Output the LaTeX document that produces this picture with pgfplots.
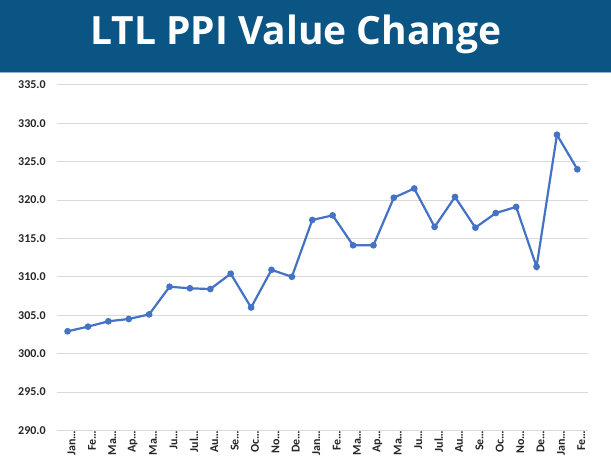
\documentclass[border=0pt]{standalone}
\usepackage{fontspec}
\setmainfont{Carlito}
\newfontfamily\titlefont{Open Sans}
\usepackage{pgfplots}
\pgfplotsset{compat=1.18}
\definecolor{banner}{HTML}{0B5584}
\definecolor{bannerline}{HTML}{8FAFD0}
\definecolor{linecol}{HTML}{4472C4}
\definecolor{gridgray}{HTML}{D9D9D9}
\definecolor{labgray}{HTML}{262626}
\begin{document}
\begin{tikzpicture}
\fill[white] (0bp,0bp) rectangle (611bp,470bp);
\fill[banner] (0bp,397bp) rectangle (611bp,470bp);
\draw[bannerline, line width=1bp] (0bp,397bp) -- (611bp,397bp);
\node[text=white, font=\titlefont\bfseries\fontsize{39bp}{44bp}\selectfont, anchor=base] at (296bp,425bp) {LTL PPI Value Change};
\begin{axis}[
  at={(57bp,39bp)}, anchor=south west,
  scale only axis, width=531bp, height=346bp,
  xmin=-0.5, xmax=25.5, ymin=290, ymax=335,
  ytick={290,295,...,335},
  xtick={0,...,25},
  xticklabels={Jan…,Fe…,Ma…,Ap…,Ma…,Ju…,Jul…,Au…,Se…,Oc…,No…,De…,Jan…,Fe…,Ma…,Ap…,Ma…,Ju…,Jul…,Au…,Se…,Oc…,No…,De…,Jan…,Fe…},
  x tick label style={rotate=90, anchor=east, inner sep=0pt, yshift=-4bp, text=labgray, font=\bfseries\fontsize{12bp}{14bp}\selectfont},
  y tick label style={anchor=east, inner sep=0pt, xshift=-11.5bp, text=labgray, font=\bfseries\fontsize{12bp}{14bp}\selectfont},
  /pgf/number format/.cd, fixed, fixed zerofill, precision=1, assume math mode=true, /pgfplots/.cd,
  major tick length=0pt,
  ymajorgrids, grid style={gridgray, line width=0.75bp},
  axis line style={draw=none},
  clip=false,
]
\addplot[linecol, line width=2.2bp, mark=*, mark size=2.2bp, mark options={fill=linecol, draw=linecol}] coordinates {
(0,302.9) (1,303.5) (2,304.2) (3,304.5) (4,305.1) (5,308.7) (6,308.5) (7,308.4)
(8,310.4) (9,306.0) (10,310.9) (11,310.0) (12,317.4) (13,318.0) (14,314.1) (15,314.1)
(16,320.3) (17,321.5) (18,316.5) (19,320.4) (20,316.4) (21,318.3) (22,319.1) (23,311.3)
(24,328.5) (25,324.0)
};
\end{axis}
\end{tikzpicture}
\end{document}
